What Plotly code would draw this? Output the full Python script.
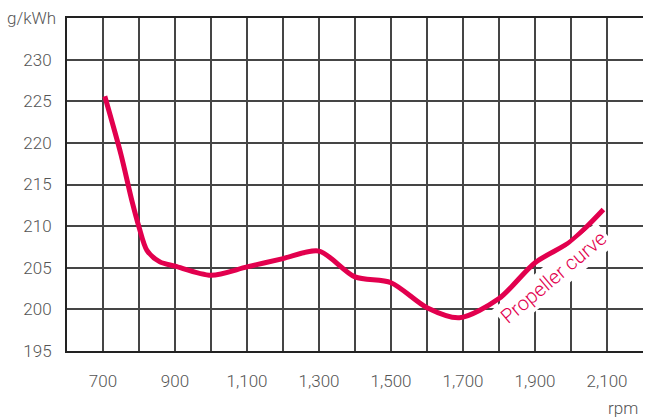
import plotly.graph_objects as go

rpm = [705, 750, 780, 800, 822, 858, 900, 1000, 1100, 1200, 1300, 1400, 1500, 1600, 1690, 1800, 1900, 2000, 2090]
fuel = [225.6, 218.6, 213.1, 209.9, 207.1, 205.7, 205.2, 204.1, 205.1, 206.1, 207.0, 203.9, 203.2, 200.2, 199.0, 201.3, 205.6, 208.2, 212.0]

x_ticks = [700, 900, 1100, 1300, 1500, 1700, 1900, 2100]
x_labels = ["700", "900", "1,100", "1,300", "1,500", "1,700", "1,900", "2,100"]
y_ticks = [195, 200, 205, 210, 215, 220, 225, 230]

RED = "#E2004E"
GRID = "#454545"
TXT = "#555555"
FONT = "Roboto"

fig = go.Figure()
fig.add_trace(go.Scatter(x=rpm, y=fuel, mode="lines",
                         line=dict(color=RED, width=5, shape="spline", smoothing=0.8),
                         hoverinfo="skip", showlegend=False))

fig.update_layout(
    width=645, height=419,
    margin=dict(l=67, r=2, t=18, b=68, autoexpand=False),
    paper_bgcolor="white", plot_bgcolor="white",
    font=dict(family=FONT, size=17, color=TXT, weight=300),
    xaxis=dict(range=[600, 2200], tickvals=x_ticks, ticktext=x_labels,
               showgrid=True, gridcolor=GRID, gridwidth=2,
               minor=dict(tick0=600, dtick=100, showgrid=True, gridcolor=GRID, gridwidth=2),
               showline=True, linecolor="#222222", linewidth=2, mirror=True,
               ticks="", ticklabelstandoff=14, zeroline=False, fixedrange=True,
               automargin=False),
    yaxis=dict(range=[195, 235], tickvals=y_ticks,
               showgrid=True, gridcolor=GRID, gridwidth=2,
               showline=True, linecolor="#222222", linewidth=2,
               ticks="", ticklabelstandoff=10, zeroline=False, fixedrange=True,
               automargin=False),
    annotations=[
        dict(text="g/kWh", xref="paper", yref="paper", x=-62/576, y=1.0,
             xanchor="left", yanchor="middle", showarrow=False,
             font=dict(family=FONT, size=17, color=TXT, weight=300)),
        dict(text="rpm", xref="paper", yref="paper", x=0.995, y=-57/333,
             xanchor="right", yanchor="middle", showarrow=False,
             font=dict(family=FONT, size=17, color=TXT, weight=300)),
        dict(text="Propeller curve", xref="x", yref="y", x=1952, y=203.9,
             showarrow=False, textangle=-40, bgcolor="white", borderpad=2,
             font=dict(family=FONT, size=20, color=RED)),
    ],
)

fig.write_html("out.html", config={"displayModeBar": False},
               post_script="document.body.style.margin='0';")
